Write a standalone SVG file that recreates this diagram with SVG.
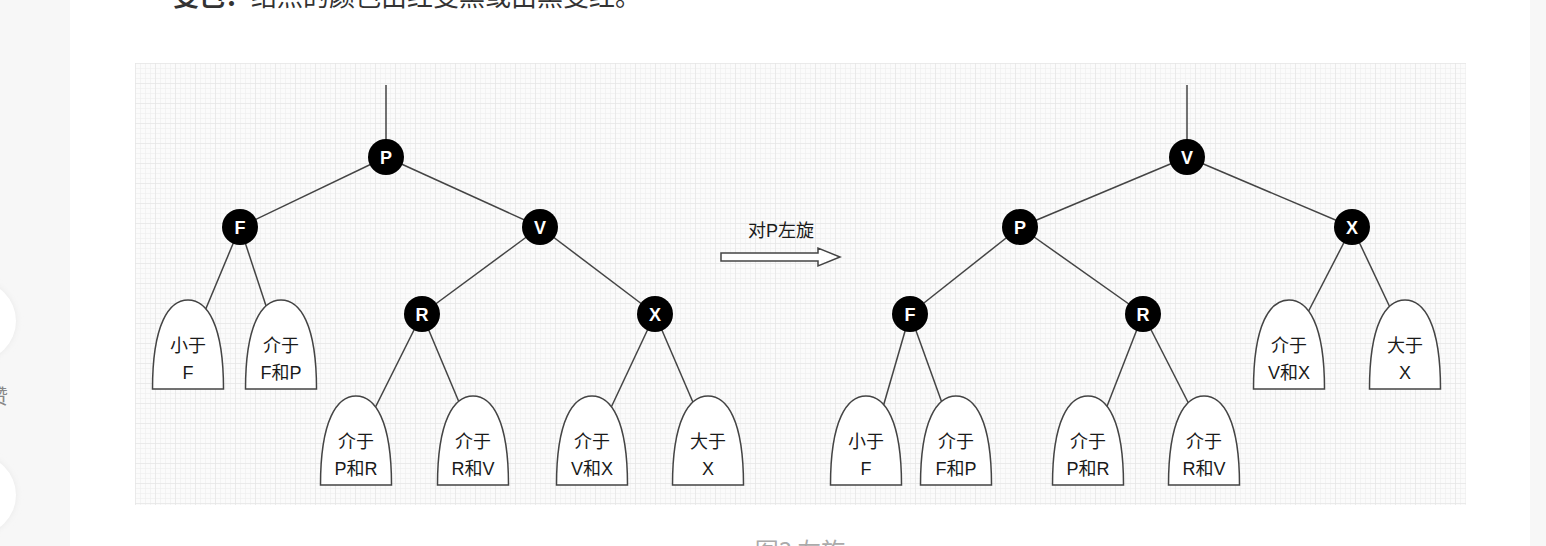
<svg xmlns="http://www.w3.org/2000/svg" width="1546" height="546" viewBox="0 0 1546 546">
  <defs>
    <pattern id="gridMinor" width="5" height="5" patternUnits="userSpaceOnUse" x="135" y="63">
      <path d="M5 0 H0 V5" fill="none" stroke="#ececec" stroke-width="1"/>
    </pattern>
    <pattern id="gridMajor" width="20" height="20" patternUnits="userSpaceOnUse" x="135" y="63">
      <path d="M20 0 H0 V20" fill="none" stroke="#e2e2e2" stroke-width="1"/>
    </pattern>
    <!-- subtree placeholder: 72 wide, 89 tall, flat base -->
    <path id="leaf" d="M0.5 89 C0.5 24 17 0 36 0 C55 0 71.5 24 71.5 89 Z"/>
    <filter id="soft" x="-50%" y="-50%" width="200%" height="200%">
      <feGaussianBlur stdDeviation="3"/>
    </filter>
  </defs>
  <style>
    .page { fill: #ffffff; }
    .side { fill: #f7f7f7; }
    .edge { stroke: #444; stroke-width: 1.5; fill: none; }
    .node circle { fill: #000; }
    .node text { fill: #fff; font-family: "Liberation Sans", "Noto Sans", sans-serif; font-size: 18px; font-weight: bold; text-anchor: middle; }
    .leaf use { fill: #fff; stroke: #444; stroke-width: 1.5; }
    .leaf text { fill: #1a1a1a; font-family: "Liberation Sans", "Noto Sans CJK SC", sans-serif; font-size: 18px; text-anchor: middle; }
    .label { fill: #1a1a1a; font-family: "Liberation Sans", "Noto Sans CJK SC", sans-serif; font-size: 18px; text-anchor: middle; }
    .body { fill: #333; font-family: "Noto Sans CJK SC", sans-serif; font-size: 26px; }
    .caption { fill: #aaa; font-family: "Noto Sans CJK SC", sans-serif; font-size: 24px; text-anchor: middle; }
  </style>

  <!-- page background -->
  <rect class="page" x="0" y="0" width="1546" height="546"/>
  <rect class="side" x="0" y="0" width="70" height="546"/>
  <rect class="side" x="1530" y="0" width="16" height="546"/>
  <circle cx="-24" cy="321" r="40" fill="#e8e8e8" filter="url(#soft)"/>
  <circle cx="-24" cy="321" r="40" fill="#fff"/>
  <circle cx="-24" cy="495" r="40" fill="#e8e8e8" filter="url(#soft)"/>
  <circle cx="-24" cy="495" r="40" fill="#fff"/>
  <text x="-12" y="404" font-family="Noto Sans CJK SC, sans-serif" font-size="20" fill="#888">赞</text>

  <!-- body text above the figure -->
  <text class="body" x="173" y="6"><tspan font-weight="bold">变色：</tspan>结点的颜色由红变黑或由黑变红。</text>

  <!-- figure canvas with grid -->
  <rect x="135" y="63" width="1331" height="442" fill="#fbfbfb"/>
  <rect x="135" y="63" width="1331" height="442" fill="url(#gridMinor)"/>
  <rect x="135" y="63" width="1331" height="442" fill="url(#gridMajor)"/>

  <!-- connectors -->
  <g id="connectors">
    <!-- before rotation -->
    <line class="edge" x1="386" y1="85" x2="386" y2="157"/>
    <line class="edge" x1="386" y1="157" x2="240" y2="227"/>
    <line class="edge" x1="386" y1="157" x2="540" y2="227"/>
    <line class="edge" x1="240" y1="227" x2="202" y2="318"/>
    <line class="edge" x1="240" y1="227" x2="270" y2="318"/>
    <line class="edge" x1="540" y1="227" x2="422" y2="314"/>
    <line class="edge" x1="540" y1="227" x2="655" y2="314"/>
    <line class="edge" x1="422" y1="314" x2="372" y2="414"/>
    <line class="edge" x1="422" y1="314" x2="464" y2="414"/>
    <line class="edge" x1="655" y1="314" x2="608" y2="414"/>
    <line class="edge" x1="655" y1="314" x2="698" y2="414"/>
    <!-- after rotation -->
    <line class="edge" x1="1187" y1="85" x2="1187" y2="157"/>
    <line class="edge" x1="1187" y1="157" x2="1020" y2="227"/>
    <line class="edge" x1="1187" y1="157" x2="1352" y2="227"/>
    <line class="edge" x1="1020" y1="227" x2="910" y2="314"/>
    <line class="edge" x1="1020" y1="227" x2="1143" y2="314"/>
    <line class="edge" x1="910" y1="314" x2="881" y2="414"/>
    <line class="edge" x1="910" y1="314" x2="946" y2="414"/>
    <line class="edge" x1="1143" y1="314" x2="1104" y2="414"/>
    <line class="edge" x1="1143" y1="314" x2="1194" y2="414"/>
    <line class="edge" x1="1352" y1="227" x2="1305" y2="318"/>
    <line class="edge" x1="1352" y1="227" x2="1395" y2="318"/>
  </g>

  <!-- rotation arrow -->
  <g id="rotate">
    <text class="label" x="781" y="237">对P左旋</text>
    <polygon points="721,253 818,253 818,248 840,257 818,266 818,261 721,261" fill="#fff" stroke="#444" stroke-width="1.5" stroke-linejoin="miter"/>
  </g>

  <!-- tree before rotation -->
  <g id="L-P" class="node"><circle cx="386" cy="157" r="18"/><text x="386" y="163.5">P</text></g>
  <g id="L-F" class="node"><circle cx="240" cy="227" r="18"/><text x="240" y="233.5">F</text></g>
  <g id="L-V" class="node"><circle cx="540" cy="227" r="18"/><text x="540" y="233.5">V</text></g>
  <g id="L-R" class="node"><circle cx="422" cy="314" r="18"/><text x="422" y="320.5">R</text></g>
  <g id="L-X" class="node"><circle cx="655" cy="314" r="18"/><text x="655" y="320.5">X</text></g>

  <g id="L-ltF" class="leaf"><use href="#leaf" x="152" y="300"/><text x="188" y="352">小于</text><text x="188" y="379">F</text></g>
  <g id="L-FP" class="leaf"><use href="#leaf" x="245" y="300"/><text x="281" y="352">介于</text><text x="281" y="379">F和P</text></g>
  <g id="L-PR" class="leaf"><use href="#leaf" x="320" y="396"/><text x="356" y="448">介于</text><text x="356" y="475">P和R</text></g>
  <g id="L-RV" class="leaf"><use href="#leaf" x="437" y="396"/><text x="473" y="448">介于</text><text x="473" y="475">R和V</text></g>
  <g id="L-VX" class="leaf"><use href="#leaf" x="556" y="396"/><text x="592" y="448">介于</text><text x="592" y="475">V和X</text></g>
  <g id="L-gtX" class="leaf"><use href="#leaf" x="672" y="396"/><text x="708" y="448">大于</text><text x="708" y="475">X</text></g>

  <!-- tree after rotation -->
  <g id="R-V" class="node"><circle cx="1187" cy="157" r="18"/><text x="1187" y="163.5">V</text></g>
  <g id="R-P" class="node"><circle cx="1020" cy="227" r="18"/><text x="1020" y="233.5">P</text></g>
  <g id="R-X" class="node"><circle cx="1352" cy="227" r="18"/><text x="1352" y="233.5">X</text></g>
  <g id="R-F" class="node"><circle cx="910" cy="314" r="18"/><text x="910" y="320.5">F</text></g>
  <g id="R-R" class="node"><circle cx="1143" cy="314" r="18"/><text x="1143" y="320.5">R</text></g>

  <g id="R-ltF" class="leaf"><use href="#leaf" x="830" y="396"/><text x="866" y="448">小于</text><text x="866" y="475">F</text></g>
  <g id="R-FP" class="leaf"><use href="#leaf" x="920" y="396"/><text x="956" y="448">介于</text><text x="956" y="475">F和P</text></g>
  <g id="R-PR" class="leaf"><use href="#leaf" x="1052" y="396"/><text x="1088" y="448">介于</text><text x="1088" y="475">P和R</text></g>
  <g id="R-RV" class="leaf"><use href="#leaf" x="1168" y="396"/><text x="1204" y="448">介于</text><text x="1204" y="475">R和V</text></g>
  <g id="R-VX" class="leaf"><use href="#leaf" x="1253" y="300"/><text x="1289" y="352">介于</text><text x="1289" y="379">V和X</text></g>
  <g id="R-gtX" class="leaf"><use href="#leaf" x="1369" y="300"/><text x="1405" y="352">大于</text><text x="1405" y="379">X</text></g>

  <!-- figure caption -->
  <text class="caption" x="800" y="560">图3 左旋</text>
</svg>
